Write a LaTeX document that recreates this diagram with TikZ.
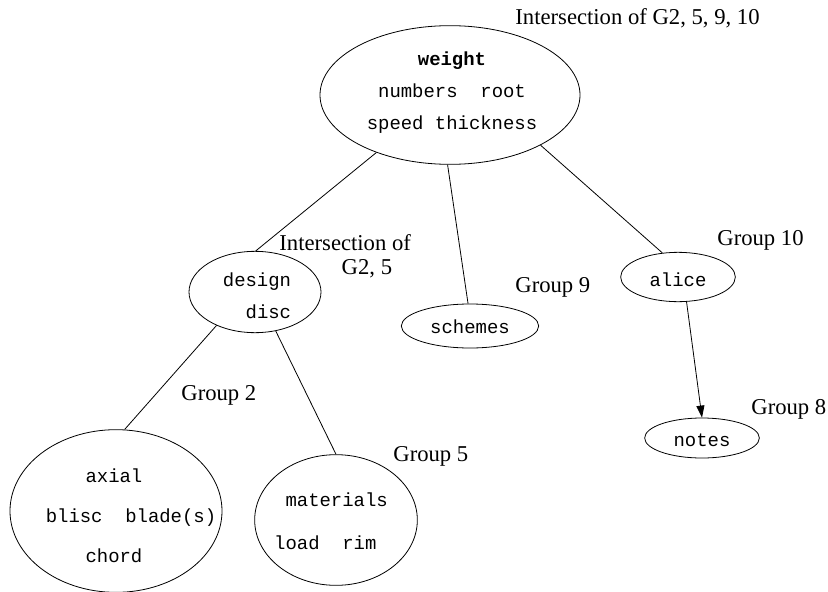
\documentclass[tikz,border=0pt]{standalone}
\usepackage{fontspec}
\setmainfont{Liberation Serif}
\setmonofont{Liberation Mono}
\usetikzlibrary{shapes.geometric, arrows.meta}

\begin{document}
\begin{tikzpicture}[x=0.75pt, y=-0.75pt, line width=0.6pt,
        blob/.style={draw, ellipse, inner sep=0pt},
        words/.style={font=\fontsize{14.2}{24}\ttfamily, align=center},
        grp/.style={anchor=west, inner sep=0pt, font=\fontsize{17}{18}\selectfont, align=left},
        >={Triangle[length=9pt, width=6pt]}]
        \useasboundingbox (0,0) rectangle (828,592);

        \node[blob, minimum width=195pt, minimum height=104pt] (root) at (450,95) {};
        \node[blob, minimum width=99pt, minimum height=61pt] (design) at (255,292) {};
        \node[blob, minimum width=103pt, minimum height=33pt] (schemes) at (470,326) {};
        \node[blob, minimum width=86pt, minimum height=37pt] (alice) at (678,277) {};
        \node[blob, minimum width=86pt, minimum height=30pt] (notes) at (702,438) {};
        \node[blob, minimum width=159pt, minimum height=122pt] (g2) at (116,511) {};
        \node[blob, minimum width=122pt, minimum height=98pt] (g5) at (336,520) {};

        \node[words] at (452,93) {\textbf{weight}\\numbers\ \ root\\speed thickness};
        \node[words] at (257,296) {design\\\ \ disc};
        \node[words] at (470,327) {schemes};
        \node[words] at (678,280) {alice};
        \node[words] at (702,440) {notes};
        \node[words] at (131,516) {\ \ \ axial\ \ \ \ \ \ \ \\[6pt]blisc\ \ blade(s)\\[6pt]\ \ \ chord\ \ \ \ \ \ \ };
        \node[words] at (331,521) {\ materials\\[8pt]load\ \ rim\ \ };

        \node[grp] (lroot) at (515,18) {Intersection of G2, 5, 9, 10};
        \node[grp] (ldesign) at (279,256) {Intersection of\\\hspace*{2.75em}G2, 5};
        \node[grp] (l9) at (515,287) {Group 9};
        \node[grp] (l10) at (717,240) {Group 10};
        \node[grp] (l8) at (751,409) {Group 8};
        \node[grp] (l2) at (181,395) {Group 2};
        \node[grp] (l5) at (393,456) {Group 5};

        \draw (root.218) -- (design.89);
        \draw (root.268) -- (schemes.95);
        \draw (root.331) -- (alice.123);
        \draw (design.221) -- (g2.84);
        \draw (design.298) -- (g5.90);
        \draw[->] (alice.289) -- (notes.90);
\end{tikzpicture}
\end{document}
